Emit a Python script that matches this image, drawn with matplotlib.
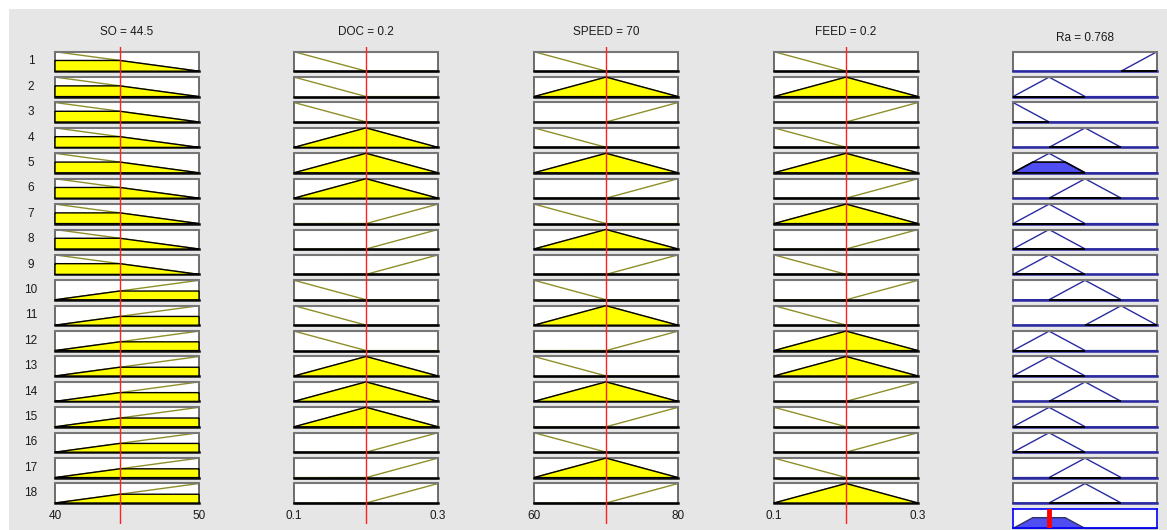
import numpy as np
import matplotlib
matplotlib.use("Agg")
import matplotlib.pyplot as plt
from matplotlib.patches import Rectangle

plt.rcParams['font.family'] = ['Liberation Sans', 'DejaVu Sans']

# ---------------- data ----------------
input_names = ["SO", "DOC", "SPEED", "FEED"]
input_ranges = [[40, 50], [0.1, 0.3], [60, 80], [0.1, 0.3]]
input_values = [44.5, 0.2, 70, 0.2]

so_mf_params = [[30, 40, 50], [40, 50, 60]]
doc_mf_params = [[0.0, 0.1, 0.2], [0.1, 0.2, 0.3], [0.2, 0.3, 0.4]]
speed_mf_params = [[50, 60, 70], [60, 70, 80], [70, 80, 90]]
feed_mf_params = [[0.0, 0.1, 0.2], [0.1, 0.2, 0.3], [0.2, 0.3, 0.4]]

output_name = "Ra"
ra_range = [0.4, 1.872]
ra_mf_params = [[0.032, 0.4, 0.768], [0.4, 0.768, 1.136], [0.768, 1.136, 1.504],
                [1.136, 1.504, 1.872], [1.504, 1.872, 2.24]]

# rule base (1-based MF index per variable)
so_rule = [1, 1, 1, 1, 1, 1, 1, 1, 1, 2, 2, 2, 2, 2, 2, 2, 2, 2]
doc_rule = [1, 1, 1, 2, 2, 2, 3, 3, 3, 1, 1, 1, 2, 2, 2, 3, 3, 3]
speed_rule = [1, 2, 3, 1, 2, 3, 1, 2, 3, 1, 2, 3, 1, 2, 3, 1, 2, 3]
feed_rule = [1, 2, 3, 1, 2, 3, 2, 3, 1, 3, 1, 2, 2, 3, 1, 3, 1, 2]
ra_rule = [5, 2, 1, 3, 2, 3, 2, 2, 2, 3, 4, 2, 2, 3, 2, 2, 3, 3]

# ---------------- helpers ----------------
def trimf(x, p):
    a, b, c = p
    return np.maximum(np.minimum((x - a) / (b - a), (c - x) / (c - b)), 0.0)

input_mfs = [so_mf_params, doc_mf_params, speed_mf_params, feed_mf_params]
input_rules = [so_rule, doc_rule, speed_rule, feed_rule]
n_rules = len(ra_rule)

# firing strengths (min)
strengths = []
for r in range(n_rules):
    mus = [float(trimf(np.array([input_values[k]]), input_mfs[k][input_rules[k][r] - 1])[0])
           for k in range(4)]
    strengths.append(min(mus))

xo = np.linspace(ra_range[0], ra_range[1], 2001)
agg = np.zeros_like(xo)
for r in range(n_rules):
    agg = np.maximum(agg, np.minimum(trimf(xo, ra_mf_params[ra_rule[r] - 1]), strengths[r]))
ra_value = float(np.sum(xo * agg) / np.sum(agg))

# ---------------- layout (pixels) ----------------
W, H = 1167, 530
col_left = [55, 294, 534, 774, 1013]
box_w = 144
row_top0 = 51.7
row_pitch = 25.4
box_h = 19.5

BG = '#E6E6E6'
YELLOW = '#FFFF00'
OLIVE = '#8F8F2A'
NAVY = '#2A2AA0'
BLUEFILL = '#4E4EF2'

fig = plt.figure(figsize=(W / 100, H / 100), dpi=100)
fig.patch.set_facecolor('white')
fig.patches.append(Rectangle((9 / W, 0), 1 - 9 / W, 1 - 9 / H, transform=fig.transFigure,
                             facecolor=BG, edgecolor='none', zorder=-10))


def make_ax(col, row, bottom_color='#111111'):
    top = row_top0 + row * row_pitch
    ax = fig.add_axes([col_left[col] / W, 1 - (top + box_h) / H, box_w / W, box_h / H])
    ax.set_facecolor('white')
    ax.set_ylim(0, 1)
    ax.set_xticks([])
    ax.set_yticks([])
    for s in ['top', 'left', 'right']:
        ax.spines[s].set_color('#555555')
        ax.spines[s].set_linewidth(1.2)
    ax.spines['top'].set_color('#777777')
    ax.spines['top'].set_linewidth(1.5)
    ax.spines['bottom'].set_color(bottom_color)
    ax.spines['bottom'].set_linewidth(1.8)
    return ax


def fmt(v):
    return f"{v:g}"


# input columns
for k in range(4):
    lo, hi = input_ranges[k]
    x = np.linspace(lo, hi, 801)
    last_ax = None
    for r in range(n_rules):
        ax = make_ax(k, r)
        ax.set_xlim(lo, hi)
        p = input_mfs[k][input_rules[k][r] - 1]
        mf = trimf(x, p)
        mu = float(trimf(np.array([input_values[k]]), p)[0])
        clipped = np.minimum(mf, mu)
        ax.plot(x, mf, color=OLIVE, lw=1.0, clip_on=False, zorder=2)
        px = np.concatenate([[lo], x, [hi]])
        py = np.concatenate([[0], clipped, [0]])
        ax.fill(px, py, facecolor=YELLOW, edgecolor='black', lw=1.0, clip_on=False, zorder=3)
        if r == 0:
            ax.set_title(f"{input_names[k]} = {fmt(input_values[k])}", fontsize=8.5,
                         color='#1a1a1a', pad=12)
        last_ax = ax
    last_ax.set_xticks([lo, hi])
    last_ax.set_xticklabels([fmt(lo), fmt(hi)], fontsize=8.5, color='#1a1a1a')
    last_ax.tick_params(axis='x', length=0, pad=5)
    # red input marker line across all rows
    top_px = 47
    bot_px = 524
    ov = fig.add_axes([col_left[k] / W, 1 - bot_px / H, box_w / W, (bot_px - top_px) / H],
                      zorder=10)
    ov.set_xlim(lo, hi)
    ov.set_ylim(0, 1)
    ov.axis('off')
    ov.patch.set_alpha(0)
    ov.axvline(input_values[k], color='#FF2020', lw=1.0)

# row numbers
for r in range(n_rules):
    yc = row_top0 + r * row_pitch + box_h / 2
    fig.text(31 / W, 1 - yc / H, str(r + 1), ha='center', va='center', fontsize=8.5,
             color='#1a1a1a')

# output column
for r in range(n_rules):
    ax = make_ax(4, r, bottom_color=NAVY)
    ax.set_xlim(*ra_range)
    p = ra_mf_params[ra_rule[r] - 1]
    mf = trimf(xo, p)
    ax.plot(xo, mf, color=NAVY, lw=1.0, clip_on=False, zorder=2)
    sup = mf > 0
    xs = xo[sup]
    ys = np.minimum(mf[sup], strengths[r])
    px = np.concatenate([[max(p[0], ra_range[0])], xs, [min(p[2], ra_range[1])]])
    py = np.concatenate([[0], ys, [0]])
    ax.fill(px, py, facecolor=BLUEFILL, edgecolor='black', lw=1.2, clip_on=False, zorder=3)
    if r == 0:
        ax.set_title(f"{output_name} = {ra_value:.3g}", fontsize=8.5, color='#1a1a1a', pad=8)

# aggregated output
ax = make_ax(4, n_rules)
ax.set_xlim(*ra_range)
for s in ax.spines.values():
    s.set_color('#0000FF')
    s.set_linewidth(1.2)
ax.fill(np.concatenate([[ra_range[0]], xo, [ra_range[1]]]),
        np.concatenate([[0], agg, [0]]), facecolor=BLUEFILL, edgecolor='#333366', lw=1.0,
        clip_on=False, zorder=2)
ax.axvline(ra_value, color='#FF0000', lw=3.5, zorder=4)

fig.savefig("out.png", dpi=100, facecolor=fig.get_facecolor())
